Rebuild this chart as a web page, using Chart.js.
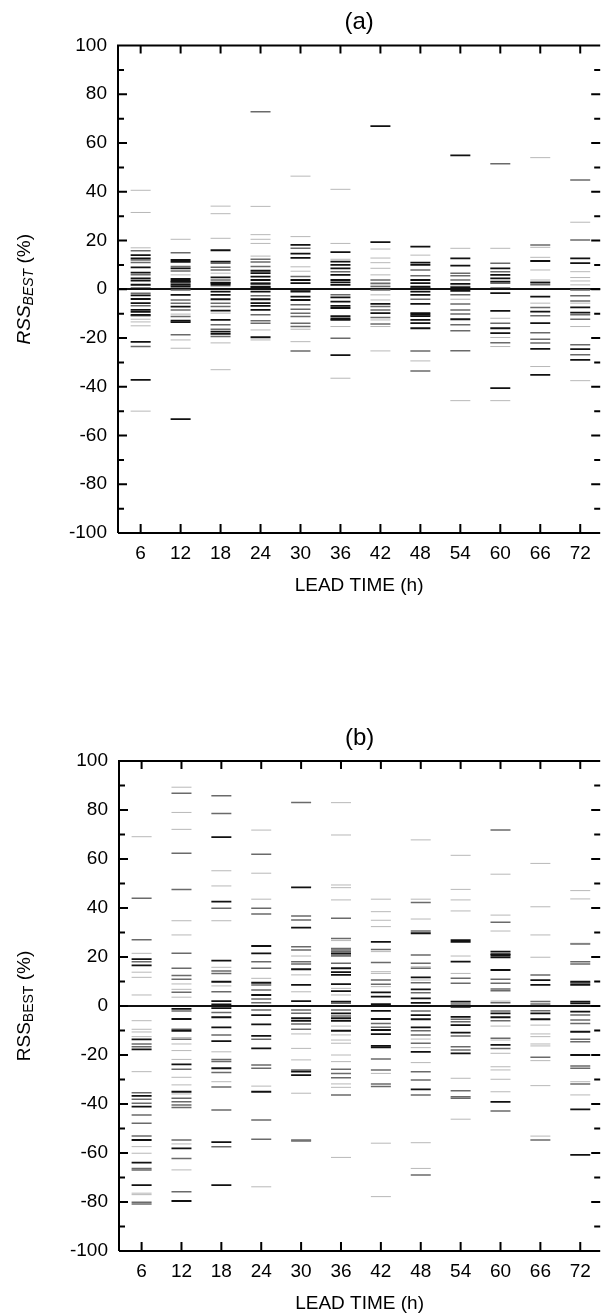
<!DOCTYPE html>
<html>
<head>
<meta charset="utf-8">
<script src="https://cdn.jsdelivr.net/npm/chart.js@4.4.1/dist/chart.umd.min.js"></script>
<style>
  html, body { margin: 0; padding: 0; background: #fff; }
  body { width: 606px; height: 1316px; overflow: hidden; position: relative; }
  canvas { position: absolute; left: 0; }
  #chartA { top: 0; }
  #chartB { top: 700px; }
</style>
</head>
<body>
<canvas id="chartA" width="612" height="600"></canvas>
<canvas id="chartB" width="612" height="616"></canvas>
<script>
// lead times (h) and y tick values
const leadTimes = [6, 12, 18, 24, 30, 36, 42, 48, 54, 60, 66, 72];
const yTicks = [-100, -80, -60, -40, -20, 0, 20, 40, 60, 80, 100];

// panel (a): RSS_BEST values per lead time, split by how dark the dash is
const aDark = [
  [14.0, 12.7, 9.0, 6.8, 4.5, 3.5, 1.8, 0.4, -2.5, -4, -5.7, -8.5, -9.3, -10.5, -21.6, -37.2],
  [12, 11.2, 8.6, 4.2, 3.4, 3.0, 1.8, 1.1, -2.3, -7.1, -12.9, -13.5, -53.3],
  [16, 11.3, 4.9, 2.7, 2.5, 1.8, -1.0, -2.3, -4.1, -8.8, -12.6, -17.4, -18.3],
  [7.6, 6.6, 5.2, 3.8, 2.2, 1.1, 0.8, -1.0, -4.1, -5.7, -6.8, -8.5, -19.7],
  [18.2, 14.6, 12.9, 3.8, 2.5, -0.2, -1.0, -3.0, -4.4],
  [15.2, 11.3, 10, 8.6, 5.9, 3.8, 2.8, 1.8, -3.3, -5.1, -6.8, -7.7, -11, -12, -12.6, -27],
  [66.9, 19.3, -6.0, -9.8],
  [17.5, 10.9, 10, 3.8, 2.5, 1.1, 0.5, -1.0, -2.3, -6.0, -9.8, -10.4, -11, -12.6, -13.9, -16],
  [54.9, 12.7, 9.7, 2.2, 0.7, -0.7, -12.3],
  [8.6, 5.9, 4.5, 3.1, 0.4, -1.6, -8.9, -16, -18, -40.6],
  [11.6, 2.7, -3, -9.2, -13.9, -24.5, -35.1],
  [12.7, 10.7, -7.4, -9.6, -24.6, -29]
];
const aGray = [
  [15.8, 12, 11, 5.9, -1.6, -6.8, -10.9, -23.5],
  [15, 9.3, 7.5, 2.5, -0.3, -4.4, -5.7, -8.5, -11.2, -18.7],
  [10.7, 9.0, 7.9, 3.8, -5.7, -7.1, -14.6, -16.4, -19.4],
  [72.8, 12.3, 11.2, 9.3, 2.7, -2.7, -10.5, -12.9, -13.9],
  [16.8, 5.2, -6.4, -8.2, -9.8, -11.2, -13.9, -15.3, -25.3],
  [7.2, -2.3, -20.1],
  [3.8, 2.5, 1.1, -0.3, -7.1, -8.5, -11.6, -14.3],
  [7.9, 5.5, -4.1, -25.3, -33.5],
  [6.6, 5.5, 3.8, 1.1, -2.3, -6.1, -8.5, -10.2, -14.6, -17, -25.2],
  [51.5, 10.7, 7.2, 2.5, -13.9, -21.9],
  [18.2, 1.8, -7.5, -10.9, -17.8, -20.5, -22.1],
  [44.8, 20.2, -0.3, -2.7, -4.8, -10.5, -12.3, -22.8, -26.9]
];
const aFaint = [
  [40.6, 31.5, 17, 2.3, -12.3, -13.4, -15, -50],
  [20.5, 5.9, -10.2, -20.8, -24.2],
  [34.1, 31, 20.9, 6.6, 1.1, -9.8, -22, -33],
  [34, 22.4, 20.5, 18.8, 13.6, -16.7, -20.8],
  [46.4, 21.6, 9.2, 7.4, -16.4, -21.5],
  [41, 18.8, 12.3, -15.3, -36.5],
  [16.5, 12.8, 10.9, 8.6, 5.9, 1.8, -2.3, -4.4, -12.6, -15.3, -25.3],
  [14, -29.4],
  [16.8, -4.1, -45.7],
  [16.8, -11.9, -19.8, -23.5, -45.7],
  [54, 17.2, 13.1, 7.9, 3.8, 3.1, -5.7, -31.7],
  [27.5, 7.2, 4.8, 3.4, 1.8, -5.7, -15.3, -37.5]
];

// panel (b)
const bDark = [
  [19.1, 16.6, -13.6, -17.7, -36.7, -41.1, -54.7, -63.9, -73.1],
  [-1.2, -5.3, -10.1, -23.8, -35, -58.1, -79.6],
  [68.9, 42.6, 18.5, 9.9, 2, 0.7, -0.9, -4.6, -8.7, -14.3, -25.4, -55.6, -73.1],
  [24.5, 21.5, 9.5, 4.5, -3.7, -7.5, -12.2, -17.3, -35],
  [48.4, 32, 15, 8.6, 2, -5, -6.1, -26.8, -28.2],
  [21.5, 15.4, 13.8, 12.7, 8.9, 6.1, 1.8, -3, -5, -6.1, -10.1],
  [26.2, 5.6, 3.8, 0.8, -2, -5.3, -9.8, -11.5, -16.3, -16.9],
  [29.7, 11.7, 6.8, 3.1, 1.3, 0, -3.7, -5.4, -8.7, -18.7, -34],
  [26.9, 26.2, 18.1, 1.8, -0.3, -4.4, -7.8, -10.9, -19.3],
  [22.2, 21.2, 20.8, 19.9, 14.7, -3, -4.6, -15.9, -39.1],
  [10.6, 8.6, -3, -5.4],
  [9.9, 8.6, 1.8, 1.1, -2.3, -10.5, -20, -42.2, -60.8]
];
const bGray = [
  [44, 27, 18.1, -15.5, -16.6, -35.4, -38.1, -39.7, -44.5, -47.9, -53.1, -66.3, -66.9, -80.1, -80.8],
  [86.8, 62.3, 47.6, 21.5, 15.4, 12.4, 10.9, 5.6, -2, -9.5, -13.6, -25.8, -37.7, -39.1, -40.4, -41.4, -54.7, -62.2, -75.8],
  [85.8, 78.6, 39.9, 14.3, 13.3, 5.8, -2.7, -11.8, -21.8, -22.7, -27.1, -33.1, -42.4, -57.4],
  [61.9, 39.9, 37.6, 18.1, 15.4, 8.6, 6.5, 2.9, 1.3, -1.6, -13.6, -24.1, -25.4, -46.5, -54.4],
  [83.1, 36.7, 35.1, 24.2, 22.9, 18.1, 17.1, -1.6, -3, -7.3, -9.5, -26.1, -54.7, -55.1],
  [35.8, 27.6, 23.5, 22.9, 22.2, 20.8, 20.4, 17.4, 1.1, -1.6, -4.1, -25.8, -27.5, -29.3, -36.3],
  [23.1, 17.8, 10.6, 8.9, -7.1, -8.7, -21.6, -26.1, -31.8, -32.9],
  [42.2, 30.6, 20.8, 17.4, 15.4, 9.5, 5.4, -2, -10.1, -11.8, -15.2, -26.8, -30.2, -36.3, -69],
  [11.3, 9.3, 0.8, -5.4, -6.4, -12.2, -16.6, -18, -34.6, -37, -37.7],
  [71.8, 34.2, 10.9, 9.3, 6.9, 6.2, 1.3, -2, -6, -13.2, -17.3, -42.9],
  [12.7, 1.8, 0.8, -1.9, -20.9, -54.7],
  [25.3, 18.1, 17.1, 9.3, -3.7, -5.7, -7.1, -13.6, -14.6, -24.5, -25.4, -31.8]
];
const bFaint = [
  [69.1, 21.5, 13.8, 11.7, 4.5, -6, -9.5, -10.6, -12.5, -26.8, -57.4, -60.1, -76.4, -77],
  [89.3, 79, 72.1, 34.8, 29, 9, 6.8, 3.6, -12.9, -15.5, -18.2, -21.8, -29.1, -32.2, -35.9, -56.3, -66.9],
  [55.2, 49, 34.8, 15.8, 8.2, -18.7, -30.9],
  [71.8, 54.2, 43.6, 11.3, -32.7, -73.8],
  [20.4, 12.7, 5.8, -11.4, -17.3, -22, -35.6],
  [83, 69.8, 49.4, 48.3, 43.3, 26.7, 7.2, 4.5, -8.2, -11.8, -13.9, -15.2, -20, -22.7, -31.8, -33.2, -61.8],
  [43.6, 38.5, 35, 32.4, 22.2, 14, 13.3, 7.9, -27.5, -56, -77.8],
  [67.8, 43.6, 35.5, 16, 10.6, -13.5, -17, -23.1, -55.8, -66.3],
  [61.5, 47.6, 43.3, 38.8, 20.4, 13.3, -29.5, -46.2],
  [53.8, 37.1, 30.6, 2, -8.2, -13.9, -19.3, -24.8, -26.1, -29.9, -35],
  [58.2, 40.5, 29, 19.9, -7.8, -11.4, -12.5, -15.5, -16.3, -22.3, -32.5, -53.1],
  [47.1, 43.7, 25.6, -30.9, -36.3]
];

const FONT = "'Liberation Sans', Arial, Helvetica, sans-serif";

function toPoints(cols) {
  const pts = [];
  cols.forEach((vals, i) => vals.forEach(v => pts.push({ x: leadTimes[i], y: v })));
  return pts;
}

function dashSet(cols, color, width) {
  return {
    data: toPoints(cols),
    showLine: false,
    pointStyle: 'line',
    pointRadius: 10,
    pointHoverRadius: 10,
    pointBorderColor: color,
    pointBorderWidth: width
  };
}

// frame, inward ticks, panel letter and y title with subscript
const decor = {
  id: 'decor',
  afterDraw(chart, args, opts) {
    const ctx = chart.ctx;
    const a = chart.chartArea;
    const xs = chart.scales.x, ys = chart.scales.y;
    ctx.save();
    ctx.strokeStyle = '#000';
    ctx.lineWidth = 2;
    ctx.beginPath();
    ctx.moveTo(a.left, a.bottom); ctx.lineTo(a.left, a.top); ctx.lineTo(a.right, a.top);
    ctx.moveTo(a.left, a.bottom); ctx.lineTo(a.right, a.bottom);
    ctx.stroke();

    ctx.beginPath();
    leadTimes.forEach(t => {
      const px = xs.getPixelForValue(t);
      ctx.moveTo(px, a.top); ctx.lineTo(px, a.top + 8);
      ctx.moveTo(px, a.bottom); ctx.lineTo(px, a.bottom - 9);
    });
    for (let v = -90; v <= 90; v += 10) {
      const py = ys.getPixelForValue(v);
      const len = v % 20 === 0 ? 9 : 6;
      ctx.moveTo(a.left, py); ctx.lineTo(a.left + len, py);
      ctx.moveTo(a.right, py); ctx.lineTo(a.right - len, py);
    }
    ctx.stroke();

    ctx.fillStyle = '#000';
    ctx.textAlign = 'center';
    ctx.textBaseline = 'middle';
    ctx.font = '24px ' + FONT;
    ctx.fillText(opts.label, (a.left + a.right) / 2, a.top - 23);

    // y axis title: RSS_BEST (%)
    const st = opts.italic ? 'italic ' : '';
    ctx.translate(23, (a.top + a.bottom) / 2);
    ctx.rotate(-Math.PI / 2);
    ctx.textAlign = 'left';
    ctx.textBaseline = 'alphabetic';
    const big = st + '19px ' + FONT, small = st + '14px ' + FONT;
    ctx.font = big; const w1 = ctx.measureText('RSS').width;
    ctx.font = small; const w2 = ctx.measureText('BEST').width;
    ctx.font = '19px ' + FONT; const w3 = ctx.measureText(' (%)').width;
    let x0 = -(w1 + w2 + w3) / 2;
    const base = 7;
    ctx.font = big; ctx.fillText('RSS', x0, base);
    ctx.font = small; ctx.fillText('BEST', x0 + w1, base + 3);
    ctx.font = '19px ' + FONT; ctx.fillText(' (%)', x0 + w1 + w2, base);
    ctx.restore();
  }
};

function makeChart(id, label, italic, dark, gray, faint, top, left, xHeight, titleBottom) {
  return new Chart(document.getElementById(id), {
    type: 'scatter',
    data: {
      datasets: [
        dashSet(dark, '#111111', 1.8),
        dashSet(gray, '#6a6a6a', 1.5),
        dashSet(faint, '#b8b8b8', 1)
      ]
    },
    options: {
      responsive: false,
      animation: false,
      layout: { padding: { top: top, left: 0, right: 4, bottom: 0 } },
      plugins: {
        legend: { display: false },
        tooltip: { enabled: false },
        decor: { label: label, italic: italic }
      },
      scales: {
        x: {
          type: 'linear',
          min: 2.6,
          max: 75,
          afterBuildTicks: s => { s.ticks = leadTimes.map(v => ({ value: v })); },
          afterFit: s => { s.height = xHeight; },
          grid: { display: false, drawTicks: false },
          border: { display: false },
          ticks: { color: '#000', font: { family: FONT, size: 19 }, padding: 9, maxRotation: 0, autoSkip: false },
          title: {
            display: true,
            text: 'LEAD TIME (h)',
            color: '#000',
            font: { family: FONT, size: 19 },
            padding: { top: 0, bottom: titleBottom }
          }
        },
        y: {
          min: -100,
          max: 100,
          afterBuildTicks: s => { s.ticks = yTicks.map(v => ({ value: v })); },
          afterFit: s => { s.width = left; },
          grid: {
            drawTicks: false,
            color: c => (c.tick && c.tick.value === 0) ? '#111' : 'rgba(0,0,0,0)',
            lineWidth: 2
          },
          border: { display: false },
          ticks: { color: '#000', font: { family: FONT, size: 19 }, padding: 11 }
        }
      }
    },
    plugins: [decor]
  });
}

makeChart('chartA', '(a)', true, aDark, aGray, aFaint, 45.5, 118, 67, 3);
makeChart('chartB', '(b)', false, bDark, bGray, bFaint, 61, 119, 65, 1);
</script>
</body>
</html>
